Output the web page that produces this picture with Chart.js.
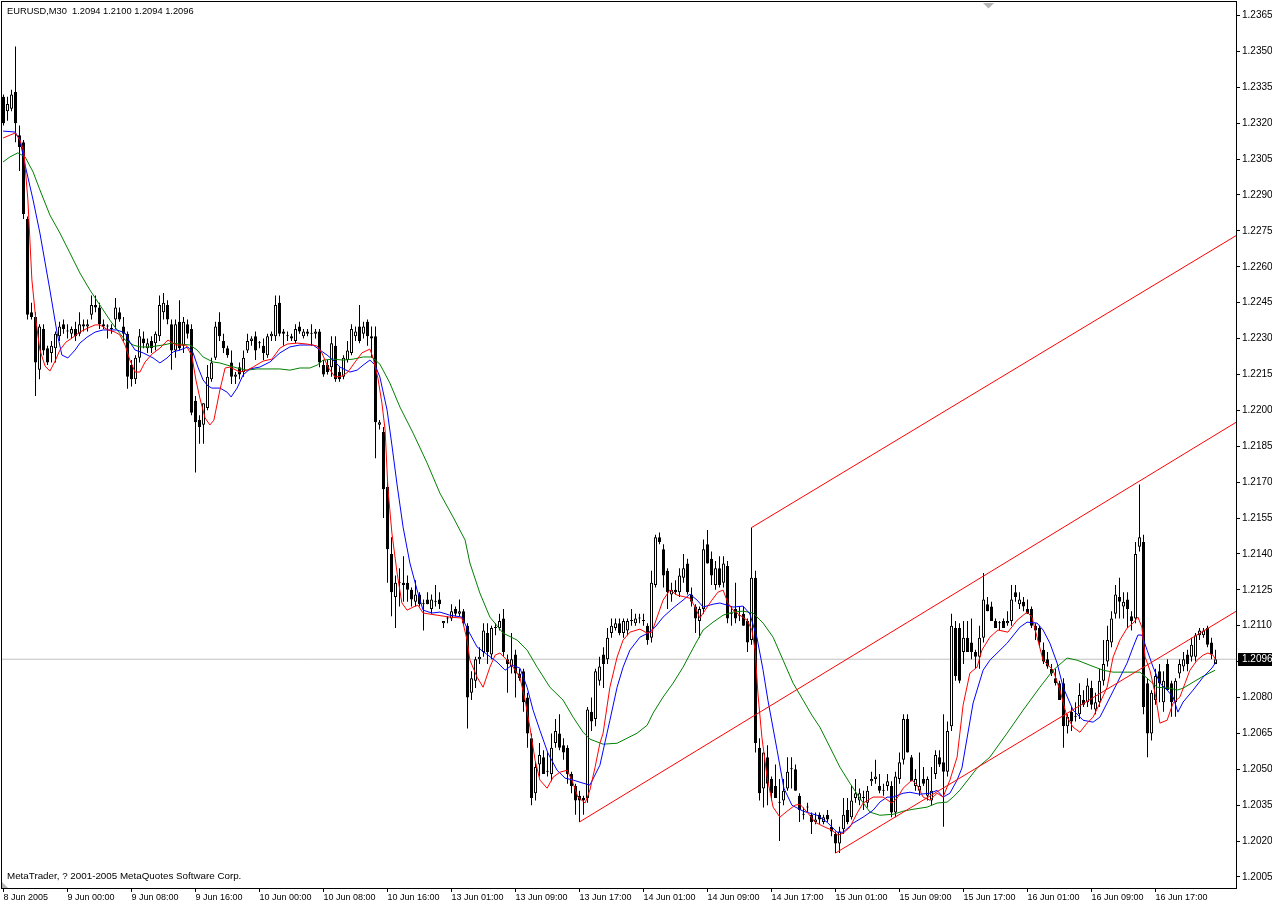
<!DOCTYPE html>
<html>
<head>
<meta charset="utf-8">
<title>EURUSD,M30</title>
<script src="https://cdn.jsdelivr.net/npm/chart.js@4.4.1/dist/chart.umd.min.js"></script>
<style>
  html, body { margin: 0; padding: 0; background: #fff; overflow: hidden; }
  #wrap { position: relative; width: 1272px; height: 901px; }
</style>
</head>
<body>
<div id="wrap"><canvas id="myChart"></canvas></div>
<script>
// x axis: one step = one M30 bar, labels every 16 bars
var tickBars = [0, 16, 32, 48, 64, 80, 96, 112, 128, 144, 160, 176, 192, 208, 224, 240, 256, 272, 288];
var tickLabels = ['8 Jun 2005', '9 Jun 00:00', '9 Jun 08:00', '9 Jun 16:00', '10 Jun 00:00', '10 Jun 08:00',
    '10 Jun 16:00', '13 Jun 01:00', '13 Jun 09:00', '13 Jun 17:00', '14 Jun 01:00', '14 Jun 09:00',
    '14 Jun 17:00', '15 Jun 01:00', '15 Jun 09:00', '15 Jun 17:00', '16 Jun 01:00', '16 Jun 09:00', '16 Jun 17:00'];
var priceTicks = [1.2005, 1.2020, 1.2035, 1.2050, 1.2065, 1.2080, 1.2095, 1.2110, 1.2125, 1.2140, 1.2155, 1.2170,
    1.2185, 1.2200, 1.2215, 1.2230, 1.2245, 1.2260, 1.2275, 1.2290, 1.2305, 1.2320, 1.2335, 1.2350, 1.2365];

var opens = [
1.2331,1.2325,1.2326,1.2333,1.2315,1.2312,1.2280,1.2241,1.2239,1.2217,
1.2234,1.2226,1.2224,1.2226,1.2231,1.2236,1.2233,1.2232,1.2234,1.2232,
1.2236,1.2235,1.2240,1.2244,1.2243,1.2236,1.2235,1.2234,1.2238,1.2241,
1.2235,1.2232,1.2219,1.2213,1.2222,1.2230,1.2226,1.2229,1.2228,1.2231,
1.2241,1.2244,1.2236,1.2225,1.2237,1.2227,1.2236,1.2234,1.2204,1.2196,
1.2194,1.2201,1.2213,1.2222,1.2237,1.2229,1.2226,1.2220,1.2214,1.2218,
1.2216,1.2225,1.2229,1.2231,1.2228,1.2227,1.2223,1.2231,1.2231,1.2245,
1.2233,1.2231,1.2231,1.2229,1.2235,1.2231,1.2233,1.2232,1.2232,1.2233,
1.2219,1.2219,1.2218,1.2227,1.2216,1.2214,1.2221,1.2224,1.2231,1.2235,
1.2232,1.2237,1.2231,1.2231,1.2194,1.2191,1.2168,1.2140,1.2122,1.2128,
1.2128,1.2128,1.2125,1.2120,1.2123,1.2119,1.2121,1.2117,1.2120,1.2121,
1.2111,1.2113,1.2113,1.2117,1.2115,1.2116,1.2110,1.2082,1.2087,1.2096,
1.2099,1.2107,1.2098,1.2109,1.2109,1.2113,1.2096,1.2093,1.2098,1.2090,
1.2091,1.2080,1.2063,1.2040,1.2052,1.2055,1.2049,1.2048,1.2061,1.2065,
1.2060,1.2059,1.2048,1.2043,1.2039,1.2038,1.2038,1.2074,1.2071,1.2087,
1.2098,1.2096,1.2107,1.2109,1.2111,1.2107,1.2108,1.2112,1.2111,1.2113,
1.2112,1.2110,1.2105,1.2127,1.2147,1.2142,1.2133,1.2123,1.2125,1.2124,
1.2130,1.2136,1.2123,1.2118,1.2112,1.2117,1.2144,1.2138,1.2127,1.2134,
1.2128,1.2135,1.2115,1.2117,1.2114,1.2115,1.2112,1.2104,1.2130,1.2059,
1.2042,1.2055,1.2046,1.2043,1.2036,1.2037,1.2042,1.2050,1.2050,1.2039,
1.2031,1.2034,1.2031,1.2028,1.2031,1.2028,1.2031,1.2026,1.2023,1.2019,
1.2025,1.2033,1.2030,1.2038,1.2037,1.2038,1.2036,1.2045,1.2046,1.2043,
1.2041,1.2043,1.2043,1.2032,1.2046,1.2054,1.2071,1.2055,1.2043,1.2041,
1.2046,1.2039,1.2037,1.2048,1.2055,1.2053,1.2049,1.2068,1.2109,1.2109,
1.2099,1.2105,1.2103,1.2099,1.2097,1.2105,1.2119,1.2118,1.2112,1.2111,
1.2112,1.2111,1.2112,1.2124,1.2119,1.2120,1.2117,1.2117,1.2110,1.2109,
1.2100,1.2096,1.2092,1.2088,1.2086,1.2086,1.2068,1.2074,1.2072,1.2073,
1.2079,1.2078,1.2084,1.2075,1.2078,1.2087,1.2095,1.2103,1.2115,1.2122,
1.2118,1.2121,1.2114,1.2113,1.2143,1.2145,1.2086,1.2065,1.2079,1.2091,
1.2078,1.2094,1.2086,1.2078,1.2090,1.2093,1.2098,1.2097,1.2097,1.2106,
1.2106,1.2109,1.2103,1.2094];
var highs = [
1.2332,1.2331,1.2334,1.2352,1.2319,1.2313,1.2281,1.2245,1.2241,1.2236,
1.2236,1.2227,1.2229,1.2233,1.2237,1.2238,1.2236,1.2235,1.2237,1.2241,
1.2238,1.2238,1.2248,1.2248,1.2245,1.2238,1.2236,1.2236,1.2247,1.2243,
1.2239,1.2233,1.2221,1.2223,1.2234,1.2233,1.2230,1.2231,1.2233,1.2248,
1.2249,1.2246,1.2238,1.2238,1.2246,1.2239,1.2238,1.2236,1.2206,1.2198,
1.2203,1.2219,1.2222,1.2237,1.2241,1.2232,1.2227,1.2225,1.2216,1.2220,
1.2225,1.2232,1.2231,1.2233,1.2229,1.2230,1.2232,1.2233,1.2248,1.2248,
1.2234,1.2233,1.2232,1.2236,1.2237,1.2234,1.2234,1.2236,1.2234,1.2234,
1.2221,1.2221,1.2231,1.2231,1.2218,1.2223,1.2229,1.2236,1.2235,1.2244,
1.2237,1.2238,1.2235,1.2235,1.2196,1.2193,1.2170,1.2147,1.2131,1.2134,
1.2139,1.2131,1.2126,1.2129,1.2124,1.2121,1.2124,1.2123,1.2127,1.2124,
1.2112,1.2114,1.2119,1.2118,1.2121,1.2117,1.2111,1.2091,1.2097,1.2101,
1.2111,1.2111,1.2110,1.2111,1.2115,1.2117,1.2098,1.2107,1.2100,1.2092,
1.2092,1.2082,1.2065,1.2053,1.2061,1.2058,1.2057,1.2065,1.2071,1.2073,
1.2063,1.2060,1.2049,1.2044,1.2041,1.2039,1.2076,1.2080,1.2092,1.2097,
1.2101,1.2109,1.2113,1.2113,1.2113,1.2113,1.2113,1.2117,1.2115,1.2115,
1.2115,1.2111,1.2133,1.2148,1.2149,1.2144,1.2134,1.2128,1.2129,1.2134,
1.2140,1.2138,1.2126,1.2119,1.2118,1.2146,1.2150,1.2141,1.2137,1.2139,
1.2139,1.2137,1.2118,1.2128,1.2118,1.2118,1.2113,1.2151,1.2133,1.2063,
1.2057,1.2060,1.2047,1.2052,1.2046,1.2046,1.2055,1.2055,1.2052,1.2040,
1.2034,1.2036,1.2032,1.2032,1.2032,1.2031,1.2033,1.2029,1.2024,1.2026,
1.2038,1.2038,1.2043,1.2046,1.2042,1.2041,1.2043,1.2049,1.2054,1.2048,
1.2044,1.2048,1.2045,1.2049,1.2057,1.2073,1.2073,1.2056,1.2050,1.2057,
1.2051,1.2047,1.2051,1.2058,1.2058,1.2073,1.2070,1.2115,1.2112,1.2111,
1.2112,1.2112,1.2113,1.2100,1.2110,1.2132,1.2122,1.2120,1.2113,1.2112,
1.2113,1.2116,1.2127,1.2127,1.2124,1.2122,1.2121,1.2118,1.2111,1.2110,
1.2103,1.2099,1.2094,1.2092,1.2087,1.2088,1.2073,1.2076,1.2078,1.2086,
1.2083,1.2088,1.2087,1.2082,1.2092,1.2104,1.2110,1.2116,1.2127,1.2130,
1.2124,1.2124,1.2116,1.2145,1.2169,1.2148,1.2088,1.2083,1.2092,1.2094,
1.2091,1.2096,1.2087,1.2088,1.2096,1.2099,1.2100,1.2105,1.2107,1.2109,
1.2109,1.2110,1.2105,1.2100];
var lows = [
1.2319,1.2321,1.2325,1.2312,1.2300,1.2280,1.2238,1.2238,1.2206,1.2213,
1.2223,1.2219,1.2220,1.2220,1.2229,1.2232,1.2230,1.2230,1.2229,1.2231,
1.2233,1.2233,1.2238,1.2241,1.2234,1.2234,1.2230,1.2232,1.2234,1.2237,
1.2229,1.2209,1.2210,1.2211,1.2220,1.2226,1.2224,1.2224,1.2225,1.2229,
1.2238,1.2236,1.2217,1.2222,1.2225,1.2224,1.2230,1.2198,1.2174,1.2186,
1.2186,1.2200,1.2212,1.2221,1.2229,1.2224,1.2222,1.2211,1.2211,1.2213,
1.2214,1.2224,1.2227,1.2221,1.2226,1.2221,1.2222,1.2229,1.2229,1.2231,
1.2227,1.2229,1.2229,1.2228,1.2232,1.2230,1.2231,1.2227,1.2230,1.2218,
1.2214,1.2215,1.2214,1.2212,1.2212,1.2213,1.2220,1.2223,1.2229,1.2228,
1.2230,1.2227,1.2222,1.2180,1.2192,1.2155,1.2128,1.2114,1.2109,1.2118,
1.2120,1.2120,1.2118,1.2118,1.2118,1.2108,1.2119,1.2115,1.2118,1.2117,
1.2109,1.2111,1.2112,1.2114,1.2114,1.2110,1.2067,1.2079,1.2084,1.2094,
1.2097,1.2094,1.2096,1.2106,1.2108,1.2097,1.2082,1.2090,1.2080,1.2087,
1.2074,1.2059,1.2035,1.2037,1.2047,1.2048,1.2047,1.2045,1.2059,1.2058,
1.2054,1.2044,1.2040,1.2031,1.2028,1.2031,1.2036,1.2066,1.2068,1.2085,
1.2084,1.2094,1.2105,1.2108,1.2106,1.2105,1.2106,1.2110,1.2110,1.2111,
1.2110,1.2102,1.2103,1.2126,1.2144,1.2126,1.2117,1.2120,1.2123,1.2122,
1.2128,1.2123,1.2118,1.2107,1.2105,1.2115,1.2136,1.2127,1.2125,1.2126,
1.2126,1.2111,1.2110,1.2111,1.2112,1.2110,1.2099,1.2102,1.2057,1.2037,
1.2034,1.2035,1.2037,1.2038,1.2020,1.2035,1.2041,1.2042,1.2041,1.2028,
1.2029,1.2032,1.2023,1.2027,1.2027,1.2027,1.2028,1.2022,1.2015,1.2015,
1.2023,1.2027,1.2029,1.2036,1.2035,1.2033,1.2034,1.2043,1.2044,1.2040,
1.2039,1.2041,1.2030,1.2030,1.2044,1.2052,1.2057,1.2045,1.2041,1.2039,
1.2043,1.2037,1.2035,1.2046,1.2051,1.2026,1.2047,1.2066,1.2087,1.2086,
1.2094,1.2099,1.2096,1.2092,1.2092,1.2103,1.2116,1.2112,1.2109,1.2108,
1.2109,1.2110,1.2110,1.2120,1.2117,1.2116,1.2115,1.2109,1.2104,1.2101,
1.2094,1.2092,1.2089,1.2085,1.2079,1.2059,1.2065,1.2066,1.2070,1.2071,
1.2076,1.2076,1.2075,1.2073,1.2076,1.2085,1.2093,1.2101,1.2113,1.2113,
1.2113,1.2109,1.2108,1.2111,1.2141,1.2073,1.2055,1.2062,1.2077,1.2078,
1.2074,1.2083,1.2072,1.2072,1.2088,1.2091,1.2091,1.2095,1.2095,1.2104,
1.2105,1.2101,1.2096,1.2094];
var closes = [
1.2320,1.2328,1.2332,1.2320,1.2310,1.2282,1.2240,1.2239,1.2220,1.2235,
1.2225,1.2220,1.2227,1.2232,1.2235,1.2234,1.2233,1.2234,1.2231,1.2236,
1.2235,1.2236,1.2244,1.2243,1.2236,1.2235,1.2235,1.2234,1.2243,1.2238,
1.2232,1.2214,1.2213,1.2222,1.2231,1.2228,1.2228,1.2226,1.2232,1.2244,
1.2245,1.2238,1.2225,1.2236,1.2226,1.2237,1.2232,1.2199,1.2195,1.2193,
1.2203,1.2214,1.2220,1.2235,1.2231,1.2226,1.2223,1.2214,1.2215,1.2215,
1.2222,1.2229,1.2230,1.2225,1.2228,1.2224,1.2231,1.2232,1.2244,1.2232,
1.2232,1.2231,1.2230,1.2234,1.2233,1.2233,1.2232,1.2232,1.2233,1.2220,
1.2215,1.2216,1.2228,1.2213,1.2213,1.2222,1.2225,1.2234,1.2233,1.2229,
1.2235,1.2231,1.2230,1.2195,1.2195,1.2167,1.2142,1.2124,1.2128,1.2128,
1.2127,1.2125,1.2121,1.2123,1.2119,1.2119,1.2119,1.2121,1.2120,1.2119,
1.2112,1.2113,1.2116,1.2115,1.2116,1.2111,1.2080,1.2088,1.2096,1.2097,
1.2108,1.2099,1.2109,1.2109,1.2112,1.2099,1.2094,1.2096,1.2090,1.2088,
1.2078,1.2065,1.2038,1.2051,1.2056,1.2048,1.2049,1.2059,1.2066,1.2059,
1.2057,1.2048,1.2043,1.2037,1.2037,1.2037,1.2075,1.2070,1.2091,1.2093,
1.2094,1.2105,1.2110,1.2111,1.2107,1.2112,1.2112,1.2112,1.2113,1.2113,
1.2112,1.2104,1.2128,1.2147,1.2145,1.2131,1.2124,1.2125,1.2124,1.2131,
1.2134,1.2124,1.2120,1.2113,1.2117,1.2142,1.2136,1.2131,1.2134,1.2127,
1.2136,1.2113,1.2115,1.2113,1.2114,1.2110,1.2103,1.2130,1.2061,1.2040,
1.2057,1.2044,1.2040,1.2038,1.2036,1.2041,1.2049,1.2050,1.2041,1.2033,
1.2031,1.2034,1.2028,1.2029,1.2029,1.2030,1.2029,1.2024,1.2019,1.2024,
1.2031,1.2028,1.2037,1.2040,1.2040,1.2038,1.2041,1.2046,1.2047,1.2041,
1.2041,1.2045,1.2032,1.2047,1.2053,1.2071,1.2057,1.2045,1.2046,1.2043,
1.2044,1.2046,1.2041,1.2056,1.2052,1.2049,1.2066,1.2110,1.2089,1.2087,
1.2105,1.2099,1.2099,1.2097,1.2105,1.2121,1.2116,1.2112,1.2109,1.2111,
1.2109,1.2112,1.2121,1.2122,1.2121,1.2118,1.2115,1.2110,1.2108,1.2103,
1.2095,1.2093,1.2090,1.2086,1.2079,1.2068,1.2072,1.2070,1.2072,1.2081,
1.2077,1.2085,1.2077,1.2078,1.2087,1.2094,1.2104,1.2113,1.2123,1.2120,
1.2120,1.2117,1.2112,1.2140,1.2147,1.2076,1.2065,1.2082,1.2089,1.2086,
1.2087,1.2083,1.2078,1.2087,1.2094,1.2096,1.2094,1.2102,1.2106,1.2108,
1.2108,1.2102,1.2098,1.2096];

// moving averages: [bar, price]
var redMA = [[-0.1,1.23138],[2.9,1.23159],[4.1,1.23130],[5.1,1.23080],[6.1,1.22879],[7.1,1.22545],[8.1,1.22377],[9.1,1.22252],[10.4,1.22185],[11.6,1.22164],[12.9,1.22206],[14.1,1.22252],[15.6,1.22285],[17.1,1.22302],[19.1,1.22327],[21.1,1.22344],[22.9,1.22357],[24.1,1.22357],[26.1,1.22336],[27.9,1.22327],[29.1,1.22315],[30.4,1.22273],[31.6,1.22210],[32.9,1.22160],[34.1,1.22160],[35.4,1.22202],[37.1,1.22235],[39.1,1.22260],[41.1,1.22294],[43.1,1.22273],[45.6,1.22273],[47.1,1.22227],[48.1,1.22127],[49.1,1.22051],[50.4,1.21968],[51.6,1.21939],[52.6,1.21959],[54.1,1.22085],[55.4,1.22177],[56.6,1.22181],[59.1,1.22160],[60.9,1.22168],[62.4,1.22181],[64.9,1.22206],[67.1,1.22214],[69.1,1.22260],[70.9,1.22277],[73.4,1.22281],[75.9,1.22277],[78.4,1.22269],[79.6,1.22240],[81.1,1.22181],[82.9,1.22139],[84.6,1.22143],[86.1,1.22160],[87.9,1.22202],[89.6,1.22240],[91.6,1.22256],[92.4,1.22219],[93.6,1.22135],[94.6,1.22031],[95.4,1.21918],[96.1,1.21675],[97.1,1.21487],[98.4,1.21320],[99.6,1.21195],[100.9,1.21165],[102.4,1.21178],[103.6,1.21186],[104.9,1.21153],[108.4,1.21144],[111.6,1.21136],[114.6,1.21132],[115.9,1.21040],[116.6,1.20956],[118.4,1.20885],[119.9,1.20843],[121.6,1.20927],[122.9,1.20977],[124.1,1.20986],[125.9,1.20956],[127.4,1.20927],[129.1,1.20885],[130.4,1.20789],[131.6,1.20676],[132.9,1.20538],[134.1,1.20455],[135.9,1.20421],[137.4,1.20467],[139.1,1.20488],[140.9,1.20496],[142.1,1.20455],[143.6,1.20384],[145.4,1.20359],[146.6,1.20413],[147.9,1.20509],[149.1,1.20609],[149.9,1.20651],[151.6,1.20843],[153.4,1.20969],[154.9,1.21040],[156.6,1.21073],[159.1,1.21086],[160.9,1.21069],[162.1,1.21073],[163.4,1.21136],[164.9,1.21207],[166.6,1.21249],[168.4,1.21228],[171.6,1.21215],[172.9,1.21178],[174.1,1.21132],[175.4,1.21165],[177.1,1.21207],[178.6,1.21240],[179.9,1.21249],[181.1,1.21195],[182.4,1.21165],[184.1,1.21144],[185.9,1.21123],[187.1,1.21082],[187.9,1.20998],[188.6,1.20818],[189.6,1.20634],[190.9,1.20467],[192.4,1.20342],[194.1,1.20300],[195.9,1.20325],[197.9,1.20350],[199.1,1.20354],[200.9,1.20321],[202.9,1.20279],[205.4,1.20258],[207.1,1.20246],[208.6,1.20225],[209.9,1.20233],[211.6,1.20258],[213.4,1.20317],[214.9,1.20359],[217.4,1.20384],[219.9,1.20384],[222.1,1.20359],[223.4,1.20379],[224.9,1.20421],[227.1,1.20455],[228.4,1.20434],[229.9,1.20384],[231.6,1.20371],[233.4,1.20400],[234.9,1.20384],[236.6,1.20455],[238.4,1.20551],[239.9,1.20768],[241.6,1.20902],[243.4,1.20927],[244.6,1.20998],[246.6,1.21052],[248.6,1.21082],[251.1,1.21073],[253.4,1.21123],[255.9,1.21157],[257.1,1.21136],[258.4,1.21052],[259.9,1.20956],[262.4,1.20914],[264.1,1.20831],[265.9,1.20718],[267.4,1.20676],[269.1,1.20655],[270.9,1.20693],[272.4,1.20718],[274.1,1.20777],[275.9,1.20843],[277.4,1.20969],[279.1,1.21040],[280.9,1.21090],[282.4,1.21111],[283.6,1.21136],[284.6,1.21094],[285.4,1.20969],[286.6,1.20914],[287.9,1.20818],[289.1,1.20693],[290.9,1.20705],[292.4,1.20777],[294.1,1.20802],[295.4,1.20860],[296.6,1.20914],[298.4,1.20956],[299.9,1.20977],[301.1,1.20986],[302.4,1.20977],[303.1,1.20956]];
var blueMA = [[-0.1,1.23167],[2.9,1.23163],[4.1,1.23130],[5.4,1.23025],[7.4,1.22879],[9.1,1.22741],[11.6,1.22503],[13.4,1.22323],[14.6,1.22231],[16.1,1.22219],[17.9,1.22252],[19.1,1.22281],[20.9,1.22306],[22.9,1.22327],[24.9,1.22336],[28.4,1.22336],[30.4,1.22323],[31.6,1.22285],[32.9,1.22252],[34.9,1.22240],[37.4,1.22219],[39.1,1.22198],[40.9,1.22219],[42.4,1.22244],[44.1,1.22252],[46.1,1.22265],[47.4,1.22240],[48.6,1.22181],[49.9,1.22127],[51.1,1.22102],[52.1,1.22093],[54.1,1.22093],[55.9,1.22076],[56.9,1.22056],[58.4,1.22093],[59.9,1.22148],[61.6,1.22173],[64.1,1.22181],[66.6,1.22202],[69.1,1.22240],[71.6,1.22265],[74.1,1.22273],[77.4,1.22273],[79.1,1.22252],[80.9,1.22231],[82.4,1.22210],[84.1,1.22181],[86.6,1.22160],[88.4,1.22168],[89.9,1.22189],[91.6,1.22210],[92.9,1.22189],[94.1,1.22139],[95.9,1.22001],[97.1,1.21855],[98.4,1.21688],[99.9,1.21512],[101.6,1.21362],[103.4,1.21249],[104.9,1.21165],[107.1,1.21153],[109.1,1.21157],[111.6,1.21144],[114.6,1.21136],[116.1,1.21082],[118.4,1.21011],[120.4,1.20986],[123.4,1.20948],[125.4,1.20914],[127.1,1.20935],[129.1,1.20923],[130.9,1.20843],[132.4,1.20747],[134.1,1.20663],[136.1,1.20568],[138.4,1.20496],[140.4,1.20463],[142.4,1.20455],[144.9,1.20442],[146.6,1.20434],[149.1,1.20517],[151.6,1.20705],[153.4,1.20843],[154.9,1.20927],[156.6,1.20998],[159.1,1.21052],[161.1,1.21069],[162.9,1.21094],[164.9,1.21136],[167.4,1.21174],[169.9,1.21207],[171.6,1.21232],[173.4,1.21207],[174.9,1.21178],[177.4,1.21190],[179.1,1.21195],[180.9,1.21186],[182.4,1.21178],[184.9,1.21182],[186.6,1.21149],[188.4,1.21048],[189.9,1.20914],[191.1,1.20789],[193.4,1.20580],[195.1,1.20421],[197.1,1.20350],[199.9,1.20325],[203.4,1.20308],[205.9,1.20279],[208.4,1.20237],[209.9,1.20237],[212.4,1.20275],[214.9,1.20300],[217.4,1.20329],[219.1,1.20363],[220.9,1.20384],[222.4,1.20384],[224.9,1.20400],[226.6,1.20404],[229.1,1.20396],[231.6,1.20400],[233.4,1.20412],[234.9,1.20384],[236.6,1.20400],[238.4,1.20455],[239.6,1.20505],[242.4,1.20777],[244.9,1.20914],[246.6,1.20956],[250.9,1.21027],[254.1,1.21094],[255.9,1.21115],[258.4,1.21111],[259.9,1.21082],[261.6,1.21027],[263.4,1.20944],[264.9,1.20843],[267.4,1.20747],[269.9,1.20705],[272.4,1.20697],[274.1,1.20718],[275.9,1.20777],[278.4,1.20860],[280.9,1.20944],[282.4,1.21011],[283.6,1.21061],[284.6,1.21061],[285.9,1.20998],[287.4,1.20927],[289.1,1.20860],[290.9,1.20831],[292.4,1.20802],[293.6,1.20739],[294.9,1.20781],[297.4,1.20831],[299.9,1.20885],[302.1,1.20923],[303.1,1.20948]];
var greenMA = [[-0.1,1.23038],[1.6,1.23059],[3.6,1.23076],[5.4,1.23059],[7.4,1.22996],[9.1,1.22921],[11.6,1.22816],[14.1,1.22741],[16.6,1.22658],[19.1,1.22574],[21.6,1.22503],[24.1,1.22440],[26.6,1.22377],[28.4,1.22336],[30.4,1.22294],[32.4,1.22273],[34.1,1.22265],[36.6,1.22265],[39.9,1.22273],[42.1,1.22281],[44.1,1.22277],[46.6,1.22273],[48.4,1.22252],[49.9,1.22223],[52.4,1.22202],[54.1,1.22198],[55.9,1.22189],[58.4,1.22177],[60.9,1.22168],[63.4,1.22173],[66.6,1.22173],[69.1,1.22173],[71.6,1.22168],[74.1,1.22177],[76.6,1.22177],[78.4,1.22189],[79.9,1.22210],[82.4,1.22214],[84.9,1.22210],[87.4,1.22214],[89.9,1.22223],[92.1,1.22223],[94.1,1.22193],[96.6,1.22114],[99.1,1.22014],[102.4,1.21905],[105.9,1.21780],[109.1,1.21654],[112.4,1.21554],[115.4,1.21458],[116.6,1.21362],[119.1,1.21236],[121.6,1.21136],[124.9,1.21069],[128.4,1.21040],[130.9,1.20998],[133.4,1.20927],[136.6,1.20843],[139.9,1.20789],[142.4,1.20718],[144.9,1.20655],[146.6,1.20626],[149.9,1.20605],[153.4,1.20609],[155.9,1.20630],[158.4,1.20651],[160.9,1.20684],[162.4,1.20735],[164.9,1.20802],[167.4,1.20860],[169.9,1.20927],[172.4,1.21006],[174.9,1.21082],[177.4,1.21115],[179.9,1.21144],[182.4,1.21157],[184.9,1.21161],[187.4,1.21153],[189.9,1.21111],[192.4,1.21052],[194.9,1.20956],[197.4,1.20860],[199.9,1.20789],[202.1,1.20726],[204.1,1.20676],[206.6,1.20593],[209.1,1.20509],[211.6,1.20442],[214.1,1.20379],[216.6,1.20321],[219.1,1.20308],[222.4,1.20312],[224.9,1.20325],[227.4,1.20333],[230.9,1.20342],[233.4,1.20359],[235.9,1.20363],[237.4,1.20384],[239.1,1.20413],[243.4,1.20505],[246.6,1.20551],[250.9,1.20651],[254.9,1.20747],[259.1,1.20843],[262.4,1.20914],[265.9,1.20965],[268.4,1.20956],[271.6,1.20935],[274.9,1.20914],[277.4,1.20906],[280.9,1.20906],[284.1,1.20906],[285.9,1.20881],[288.4,1.20843],[291.6,1.20839],[293.4,1.20831],[294.9,1.20839],[297.4,1.20864],[299.9,1.20889],[302.9,1.20914]];

// hand-drawn channel lines: [bar, price] start and end
var channelTop = [[187, 1.2151], [308.125, 1.2273]];
var channelMid = [[144, 1.2028], [308.125, 1.2195]];
var channelLow = [[208, 1.2015], [308.125, 1.2116]];
var bidPrice = 1.2096;
var headerText = 'EURUSD,M30  1.2094 1.2100 1.2094 1.2096';
var footerText = 'MetaTrader, ? 2001-2005 MetaQuotes Software Corp.';

var X_MIN = -0.375, X_MAX = 308.125;

function toPoints(pairs) {
    return pairs.map(function(p) { return {x: p[0], y: p[1]}; });
}

var wickData = opens.map(function(o, i) { return {x: i, y: [lows[i], highs[i]]}; });
var bodyData = opens.map(function(o, i) { return {x: i, y: [o, closes[i]]}; });

var mtDecor = {
    id: 'mtDecor',
    afterDraw: function(chart) {
        var ctx = chart.ctx, area = chart.chartArea, ys = chart.scales.y;
        ctx.save();
        // frame
        ctx.strokeStyle = '#000';
        ctx.lineWidth = 1;
        ctx.strokeRect(1.5, 1.5, area.right - 1, area.bottom - 1);
        // chart shift markers
        ctx.fillStyle = '#b4b4b4';
        ctx.beginPath(); ctx.moveTo(983, 3); ctx.lineTo(994, 3); ctx.lineTo(988.5, 8.5); ctx.closePath(); ctx.fill();
        ctx.beginPath(); ctx.moveTo(2, 882); ctx.lineTo(2, 888); ctx.lineTo(8, 888); ctx.closePath(); ctx.fill();
        // texts
        ctx.fillStyle = '#000';
        ctx.textBaseline = 'alphabetic';
        ctx.textAlign = 'left';
        ctx.font = '9.3px "Liberation Sans", Arial, sans-serif';
        ctx.fillText(headerText, 7, 14);
        ctx.font = '9.8px "Liberation Sans", Arial, sans-serif';
        ctx.fillText(footerText, 7, 879);
        // bid price label
        var py = Math.round(ys.getPixelForValue(bidPrice));
        ctx.fillStyle = '#000';
        ctx.fillRect(area.right + 2, py - 6, chart.width - area.right - 2, 13);
        ctx.fillStyle = '#fff';
        ctx.font = '10px "Liberation Sans", Arial, sans-serif';
        ctx.textBaseline = 'middle';
        ctx.fillText(bidPrice.toFixed(4), area.right + 6, py + 0.5);
        ctx.restore();
    }
};

Chart.defaults.font.family = '"Liberation Sans", Arial, sans-serif';
Chart.defaults.color = '#000';

var config = {
    type: 'bar',
    data: {
        datasets: [{
            type: 'line', label: 'channel top', data: toPoints(channelTop), order: 1,
            borderColor: '#ff0000', borderWidth: 1, pointRadius: 0
        }, {
            type: 'line', label: 'channel mid', data: toPoints(channelMid), order: 1,
            borderColor: '#ff0000', borderWidth: 1, pointRadius: 0
        }, {
            type: 'line', label: 'channel low', data: toPoints(channelLow), order: 1,
            borderColor: '#ff0000', borderWidth: 1, pointRadius: 0
        }, {
            type: 'line', label: 'MA fast', data: toPoints(redMA), order: 2,
            borderColor: '#ff0000', borderWidth: 1, pointRadius: 0
        }, {
            type: 'line', label: 'MA mid', data: toPoints(blueMA), order: 3,
            borderColor: '#0000ff', borderWidth: 1, pointRadius: 0
        }, {
            type: 'line', label: 'MA slow', data: toPoints(greenMA), order: 4,
            borderColor: '#008000', borderWidth: 1, pointRadius: 0
        }, {
            label: 'body', data: bodyData, order: 8, grouped: false,
            barThickness: 3, maxBarThickness: 3, minBarLength: 1, inflateAmount: 0,
            borderSkipped: false, borderWidth: 1, borderColor: '#000',
            backgroundColor: function(c) {
                var i = c.dataIndex;
                return closes[i] >= opens[i] ? '#ffffff' : '#000000';
            }
        }, {
            label: 'wick', data: wickData, order: 9, grouped: false,
            barThickness: 1, maxBarThickness: 1, inflateAmount: 0,
            borderWidth: 0, backgroundColor: '#000'
        }, {
            type: 'line', label: 'bid', order: 10,
            data: [{x: X_MIN, y: bidPrice}, {x: X_MAX, y: bidPrice}],
            borderColor: '#c0c0c0', borderWidth: 1, pointRadius: 0
        }]
    },
    options: {
        responsive: true,
        maintainAspectRatio: false,
        animation: false,
        devicePixelRatio: 1,
        events: [],
        layout: { padding: { left: 2, top: 2, right: 0, bottom: 0 } },
        plugins: { legend: { display: false }, tooltip: { enabled: false }, title: { display: false } },
        scales: {
            x: {
                type: 'linear', position: 'bottom', min: X_MIN, max: X_MAX, offset: false,
                grid: { drawOnChartArea: false, drawTicks: true, tickLength: 4, color: '#000', offset: false },
                border: { display: false },
                ticks: {
                    autoSkip: false, maxRotation: 0, align: 'start', labelOffset: 0, padding: 0,
                    font: { size: 9 },
                    callback: function(v) {
                        var k = tickBars.indexOf(v);
                        return k < 0 ? '' : tickLabels[k];
                    }
                },
                afterBuildTicks: function(scale) {
                    scale.ticks = tickBars.map(function(b) { return {value: b}; });
                },
                afterFit: function(scale) {
                    scale.height = 13;
                    scale.paddingLeft = 0;
                    scale.paddingRight = 0;
                }
            },
            y: {
                type: 'linear', position: 'right', min: 1.20004, max: 1.237064,
                grid: { drawOnChartArea: false, drawTicks: true, tickLength: 4, color: '#000' },
                border: { display: false },
                ticks: {
                    autoSkip: false, padding: 2, font: { size: 10 },
                    callback: function(v) { return v.toFixed(4); }
                },
                afterBuildTicks: function(scale) {
                    scale.ticks = priceTicks.map(function(p) { return {value: p}; });
                },
                afterFit: function(scale) {
                    scale.width = 36;
                    scale.paddingTop = 0;
                    scale.paddingBottom = 0;
                }
            }
        }
    },
    plugins: [mtDecor]
};

window.addEventListener('DOMContentLoaded', function() {
    var ctx = document.getElementById('myChart').getContext('2d');
    window.myChart = new Chart(ctx, config);
});
</script>
</body>
</html>
